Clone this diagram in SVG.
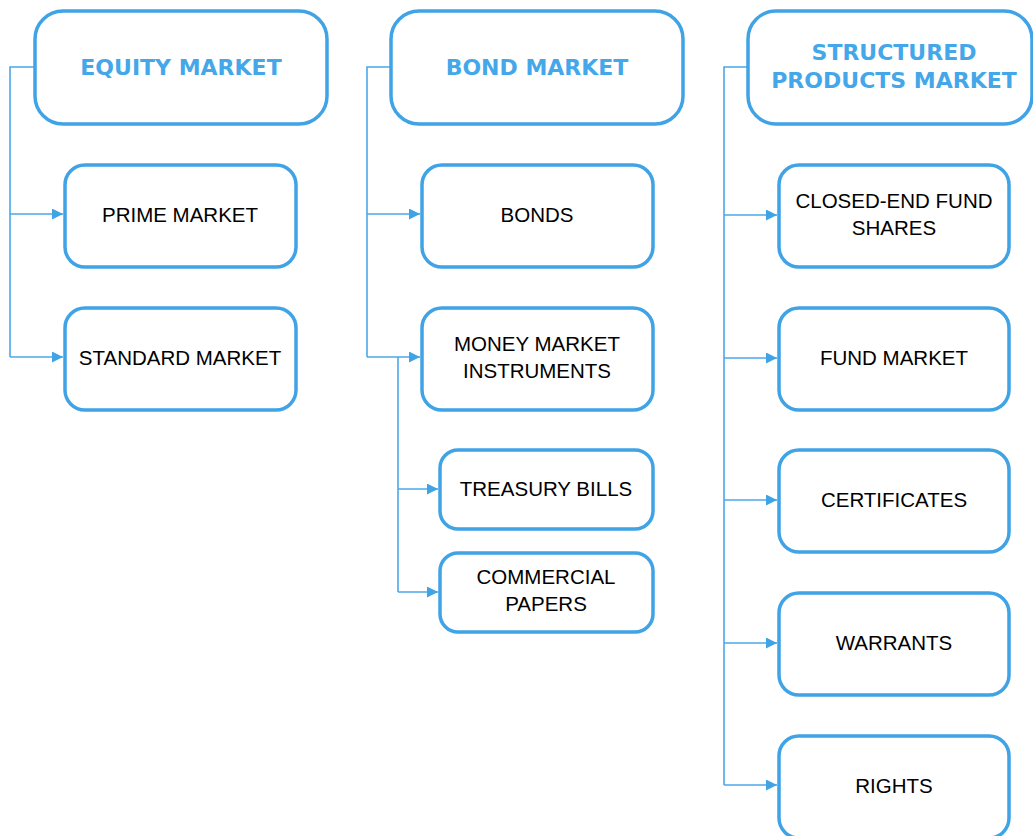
<svg xmlns="http://www.w3.org/2000/svg" width="1033" height="836" viewBox="0 0 1033 836">
<defs>
<style>
.box{fill:#fff;stroke:#3fa3e6;stroke-width:3.5}
.hd{font-family:"DejaVu Sans",Verdana,sans-serif;font-weight:bold;font-size:22px;fill:#44a7ea;text-anchor:middle}
.tx{font-family:"Liberation Sans",Arial,sans-serif;font-size:20.5px;fill:#000;text-anchor:middle}
.ln{fill:none;stroke:#4aa8ea;stroke-width:1.6}
</style>
<marker id="ar" viewBox="0 0 10 10" refX="10" refY="5" markerWidth="11" markerHeight="11" markerUnits="userSpaceOnUse" orient="auto">
<path d="M0,0 L10,5 L0,10 z" fill="#3fa3e6"/>
</marker>
</defs>
<rect width="1033" height="836" fill="#fff"/>
<g id="connectors">
<path class="ln" d="M34,67 H10 V357"/>
<path class="ln" d="M10,214 H63" marker-end="url(#ar)"/>
<path class="ln" d="M10,357 H63" marker-end="url(#ar)"/>
<path class="ln" d="M390,67 H367 V357"/>
<path class="ln" d="M367,214 H420" marker-end="url(#ar)"/>
<path class="ln" d="M367,357 H420" marker-end="url(#ar)"/>
<path class="ln" d="M398,357 V592"/>
<path class="ln" d="M398,489 H438" marker-end="url(#ar)"/>
<path class="ln" d="M398,592 H438" marker-end="url(#ar)"/>
<path class="ln" d="M747,67 H724 V785"/>
<path class="ln" d="M724,215 H777" marker-end="url(#ar)"/>
<path class="ln" d="M724,358 H777" marker-end="url(#ar)"/>
<path class="ln" d="M724,500 H777" marker-end="url(#ar)"/>
<path class="ln" d="M724,643 H777" marker-end="url(#ar)"/>
<path class="ln" d="M724,785 H777" marker-end="url(#ar)"/>
</g>
<g id="equity"><rect class="box" x="35" y="11" width="292" height="113" rx="28"/><text class="hd" x="181" y="75">EQUITY MARKET</text></g>
<g id="prime"><rect class="box" x="65" y="165" width="231" height="102" rx="20"/><text class="tx" x="180" y="222">PRIME MARKET</text></g>
<g id="standard"><rect class="box" x="65" y="308" width="231" height="102" rx="20"/><text class="tx" x="180" y="365">STANDARD MARKET</text></g>
<g id="bond"><rect class="box" x="391" y="11" width="292" height="113" rx="28"/><text class="hd" x="537" y="75">BOND MARKET</text></g>
<g id="bonds"><rect class="box" x="422" y="165" width="231" height="102" rx="20"/><text class="tx" x="537" y="222">BONDS</text></g>
<g id="money"><rect class="box" x="422" y="308" width="231" height="102" rx="20"/><text class="tx" x="537" y="351">MONEY MARKET</text><text class="tx" x="537" y="378">INSTRUMENTS</text></g>
<g id="treasury"><rect class="box" x="440" y="450" width="213" height="79" rx="18"/><text class="tx" x="546" y="496">TREASURY BILLS</text></g>
<g id="commercial"><rect class="box" x="440" y="553" width="213" height="79" rx="18"/><text class="tx" x="546" y="584">COMMERCIAL</text><text class="tx" x="546" y="611">PAPERS</text></g>
<g id="structured"><rect class="box" x="748" y="11" width="284" height="113" rx="28"/><text class="hd" x="894" y="60">STRUCTURED</text><text class="hd" x="894" y="88">PRODUCTS MARKET</text></g>
<g id="closed"><rect class="box" x="779" y="165" width="230" height="102" rx="20"/><text class="tx" x="894" y="208">CLOSED-END FUND</text><text class="tx" x="894" y="235">SHARES</text></g>
<g id="fund"><rect class="box" x="779" y="308" width="230" height="102" rx="20"/><text class="tx" x="894" y="365">FUND MARKET</text></g>
<g id="certificates"><rect class="box" x="779" y="450" width="230" height="102" rx="20"/><text class="tx" x="894" y="507">CERTIFICATES</text></g>
<g id="warrants"><rect class="box" x="779" y="593" width="230" height="102" rx="20"/><text class="tx" x="894" y="650">WARRANTS</text></g>
<g id="rights"><rect class="box" x="779" y="736" width="230" height="102" rx="20"/><text class="tx" x="894" y="793">RIGHTS</text></g>
</svg>
